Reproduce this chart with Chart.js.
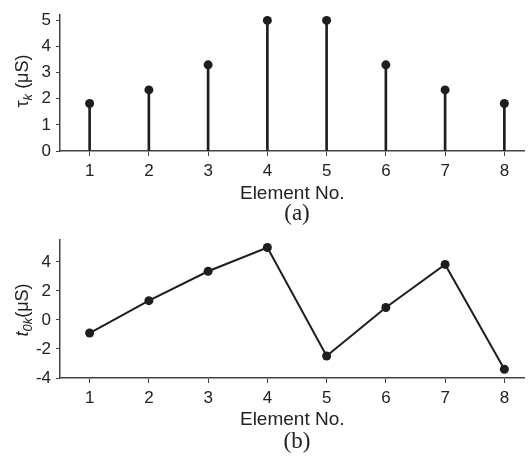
<!DOCTYPE html>
<html>
<head>
<meta charset="utf-8">
<script src="https://cdn.jsdelivr.net/npm/chart.js@4.4.1/dist/chart.umd.min.js"></script>
<style>
  html, body { margin: 0; padding: 0; background: #fff; }
  body { width: 529px; height: 460px; position: relative; overflow: hidden; font-family: "Liberation Sans", Arial, sans-serif; color: #222; }
  .box { position: absolute; left: 0; width: 529px; }
  .ytitle { position: absolute; font-size: 18px; white-space: nowrap; transform: translate(-50%, -50%) rotate(-90deg); }
  .ytitle sub { font-size: 13px; font-style: italic; vertical-align: -4px; }
  .cap { position: absolute; font-family: "Liberation Serif", "Times New Roman", serif; font-size: 23px; transform: translate(-50%, -50%); }
</style>
</head>
<body>
<div class="box" style="top:0;height:225px"><canvas id="stemChart"></canvas></div>
<div class="box" style="top:225px;height:235px"><canvas id="lineChart"></canvas></div>
<div class="ytitle" style="left:23px;top:81px">&tau;<sub>k</sub> (&mu;S)</div>
<div class="ytitle" style="left:23px;top:310px"><i>t</i><sub>0k</sub>(&mu;S)</div>
<div class="cap" style="left:297px;top:213px">(a)</div>
<div class="cap" style="left:297px;top:441px">(b)</div>
<script>
// element numbers
const elements = [1, 2, 3, 4, 5, 6, 7, 8];
// (a) tau_k in uS
const tauK = [1.82, 2.34, 3.3, 5.0, 5.0, 3.3, 2.34, 1.82];
// (b) t_0k in uS
const t0K = [-0.9, 1.33, 3.36, 5.0, -2.48, 0.86, 3.83, -3.4];

const tauTicks = [0, 1, 2, 3, 4, 5];
const tauMinor = [0.5, 1.5, 2.5, 3.5, 4.5];
const t0Ticks = [-4, -2, 0, 2, 4];
const t0Minor = [-3, -1, 1, 3, 5];

const ink = "#1e1e1e";
const axisColor = "#444";
const tickFont = { family: "Liberation Sans, Arial, sans-serif", size: 17 };

function xAxis(titlePad, height) {
    return {
        type: "linear",
        min: 0.5,
        max: 8.34,
        offset: false,
        afterBuildTicks: axis => { axis.ticks = elements.map(v => ({ value: v })); },
        afterFit: scale => { scale.height = height; },
        grid: { drawOnChartArea: false, offset: false, tickLength: 5, color: axisColor, tickWidth: 1 },
        border: { color: axisColor, width: 1.5 },
        ticks: { color: "#222", font: tickFont, padding: 5, maxRotation: 0 },
        title: {
            display: true,
            text: "Element No.",
            color: "#222",
            font: { family: "Liberation Sans, Arial, sans-serif", size: 19 },
            padding: { top: 0, bottom: titlePad }
        }
    };
}

function yAxis(min, max, major, minor) {
    return {
        min: min,
        max: max,
        afterBuildTicks: axis => {
            axis.ticks = major.concat(minor).sort((a, b) => a - b).map(v => ({ value: v }));
        },
        afterFit: scale => { scale.width = 60; },
        grid: { drawOnChartArea: false, tickLength: 4, color: axisColor, tickWidth: 1 },
        border: { color: axisColor, width: 1.5 },
        ticks: {
            color: "#222",
            font: tickFont,
            padding: 5,
            callback: v => major.includes(v) ? String(v) : ""
        }
    };
}

const common = {
    responsive: true,
    maintainAspectRatio: false,
    animation: false,
    layout: { padding: { top: 12, right: 0, left: 0, bottom: 0 } },
    plugins: { legend: { display: false }, tooltip: { enabled: false } }
};

// (a) stem plot: thin bars for stems + dots on top
new Chart(document.getElementById("stemChart"), {
    type: "bar",
    data: {
        datasets: [
            {
                type: "bar",
                data: elements.map((e, i) => ({ x: e, y: tauK[i] })),
                backgroundColor: ink,
                barThickness: 2
            },
            {
                type: "line",
                data: elements.map((e, i) => ({ x: e, y: tauK[i] })),
                showLine: false,
                pointRadius: 4.5,
                pointBackgroundColor: ink,
                pointBorderWidth: 0
            }
        ]
    },
    options: Object.assign({}, common, {
        scales: {
            x: xAxis(20, 74),
            y: yAxis(0, 5.2, tauTicks, tauMinor)
        }
    })
});

// (b) line plot
new Chart(document.getElementById("lineChart"), {
    type: "line",
    data: {
        datasets: [{
            data: elements.map((e, i) => ({ x: e, y: t0K[i] })),
            borderColor: ink,
            borderWidth: 2,
            pointRadius: 4.5,
            pointBackgroundColor: ink,
            pointBorderWidth: 0,
            tension: 0
        }]
    },
    options: Object.assign({}, common, {
        scales: {
            x: xAxis(29, 82),
            y: yAxis(-4, 5.5, t0Ticks, t0Minor)
        }
    })
});
</script>
</body>
</html>
